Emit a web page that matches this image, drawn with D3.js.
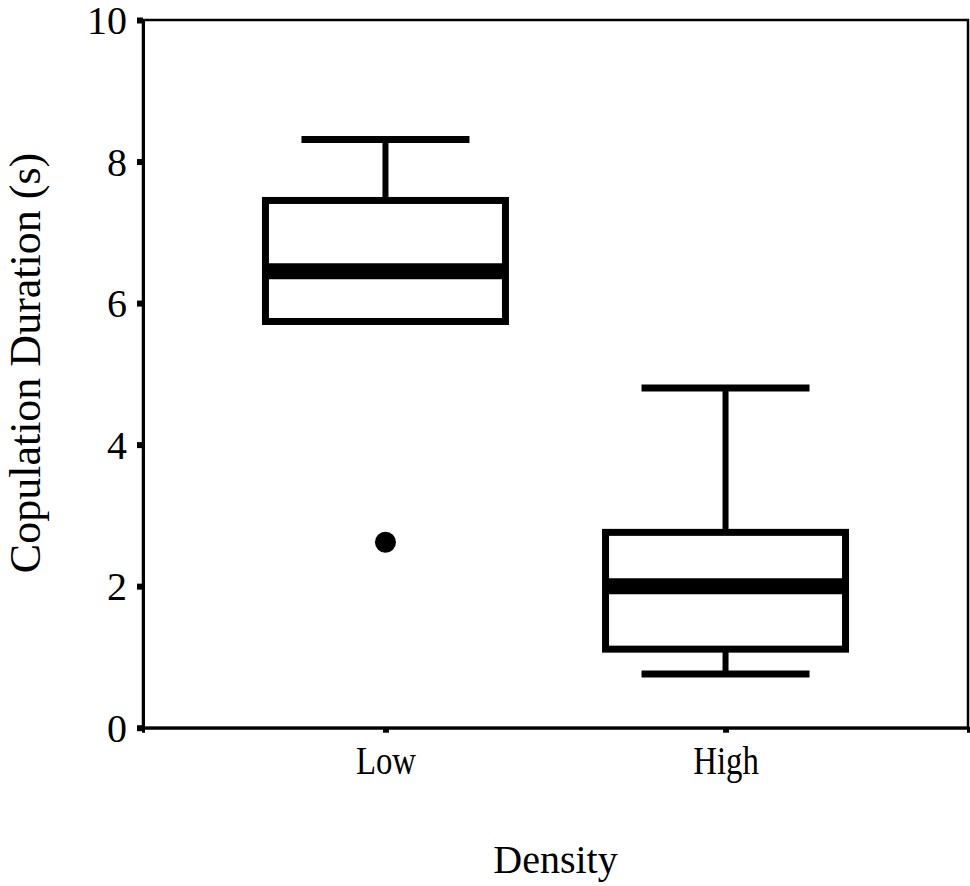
<!DOCTYPE html>
<html>
<head>
<meta charset="utf-8">
<script src="https://cdn.jsdelivr.net/npm/d3@7/dist/d3.min.js"></script>
<style>
  html, body { margin: 0; padding: 0; background: #fff; }
  svg { display: block; }
  text { font-family: "Liberation Serif", "Times New Roman", serif; fill: #000; }
</style>
</head>
<body>
<svg id="chart" width="970" height="886"></svg>
<script>
// Copulation duration by density: box summaries per group
const categories = ["Low", "High"];
const whiskerHigh = [8.31, 4.80];
const upperQuartile = [7.45, 2.76];
const medians = [6.45, 2.00];
const lowerQuartile = [5.74, 1.11];
const whiskerLow = [5.74, 0.76];
const outliers = [{ group: "Low", value: 2.62 }];
const yTicks = [0, 2, 4, 6, 8, 10];

const xTitle = "Density";
const yTitle = "Copulation Duration (s)";

const svg = d3.select("#chart");
const plotLeft = 143, plotRight = 968, plotTop = 20, plotBottom = 727.7;

const x = d3.scalePoint().domain(categories).range([plotLeft, plotRight]).padding(0.713);
const y = d3.scaleLinear().domain([0, 10]).range([plotBottom, plotTop]);

const boxW = 240, capW = 168;

const rows = categories.map((c, i) => ({
  c, hi: whiskerHigh[i], q3: upperQuartile[i], med: medians[i], q1: lowerQuartile[i], lo: whiskerLow[i]
}));

// frame
svg.append("rect")
  .attr("x", plotLeft).attr("y", plotTop)
  .attr("width", plotRight - plotLeft).attr("height", plotBottom - plotTop)
  .attr("fill", "none").attr("stroke", "#000").attr("stroke-width", 2.5);

// y axis
const yAxis = d3.axisLeft(y).tickValues(yTicks).tickSize(6).tickPadding(10).tickFormat(d3.format("d"));
const gy = svg.append("g").attr("transform", `translate(${plotLeft},0)`).call(yAxis);
gy.select(".domain").attr("stroke", "#000").attr("stroke-width", 3);
gy.selectAll(".tick line").attr("stroke", "#000").attr("stroke-width", 6);
gy.selectAll(".tick text")
  .attr("font-size", 40)
  .attr("font-family", "Liberation Serif, serif")
  .attr("x", -16)
  .attr("dy", "0.34em");

// x axis
const xAxis = d3.axisBottom(x).tickSize(5).tickPadding(14).tickFormat("");
const gx = svg.append("g").attr("transform", `translate(0,${plotBottom})`).call(xAxis);
gx.select(".domain").attr("stroke", "#000").attr("stroke-width", 3);
gx.selectAll(".tick line").attr("stroke", "#000").attr("stroke-width", 6);
gx.selectAll(".tick").append("text")
  .attr("transform", "translate(0,46) scale(0.82,1)")
  .attr("text-anchor", "middle")
  .attr("font-size", 40)
  .attr("font-family", "Liberation Serif, serif")
  .attr("fill", "#000")
  .text(d => d);

// boxes
const g = svg.append("g");
const box = g.selectAll("g.box").data(rows).join("g").attr("class", "box");

box.append("line") // upper whisker stem
  .attr("x1", d => x(d.c)).attr("x2", d => x(d.c))
  .attr("y1", d => y(d.hi)).attr("y2", d => y(d.q3))
  .attr("stroke", "#000").attr("stroke-width", 6);
box.append("line") // lower whisker stem
  .attr("x1", d => x(d.c)).attr("x2", d => x(d.c))
  .attr("y1", d => y(d.q1)).attr("y2", d => y(d.lo))
  .attr("stroke", "#000").attr("stroke-width", 6);
box.append("line") // upper cap
  .attr("x1", d => x(d.c) - capW / 2).attr("x2", d => x(d.c) + capW / 2)
  .attr("y1", d => y(d.hi)).attr("y2", d => y(d.hi))
  .attr("stroke", "#000").attr("stroke-width", 7);
box.filter(d => d.lo < d.q1).append("line") // lower cap
  .attr("x1", d => x(d.c) - capW / 2).attr("x2", d => x(d.c) + capW / 2)
  .attr("y1", d => y(d.lo)).attr("y2", d => y(d.lo))
  .attr("stroke", "#000").attr("stroke-width", 7);
box.append("rect")
  .attr("x", d => x(d.c) - boxW / 2).attr("width", boxW)
  .attr("y", d => y(d.q3)).attr("height", d => y(d.q1) - y(d.q3))
  .attr("fill", "#fff").attr("stroke", "#000").attr("stroke-width", 7);
box.append("line") // median
  .attr("x1", d => x(d.c) - boxW / 2).attr("x2", d => x(d.c) + boxW / 2)
  .attr("y1", d => y(d.med)).attr("y2", d => y(d.med))
  .attr("stroke", "#000").attr("stroke-width", 16);

// outliers
g.selectAll("circle.out").data(outliers).join("circle").attr("class", "out")
  .attr("cx", d => x(d.group)).attr("cy", d => y(d.value)).attr("r", 10.5)
  .attr("fill", "#000");

// axis titles
svg.append("text")
  .attr("x", (plotLeft + plotRight) / 2).attr("y", 873)
  .attr("text-anchor", "middle").attr("font-size", 40)
  .text(xTitle);

svg.append("text")
  .attr("transform", `translate(40,${363}) rotate(-90)`)
  .attr("text-anchor", "middle").attr("font-size", 44)
  .text(yTitle);
</script>
</body>
</html>
